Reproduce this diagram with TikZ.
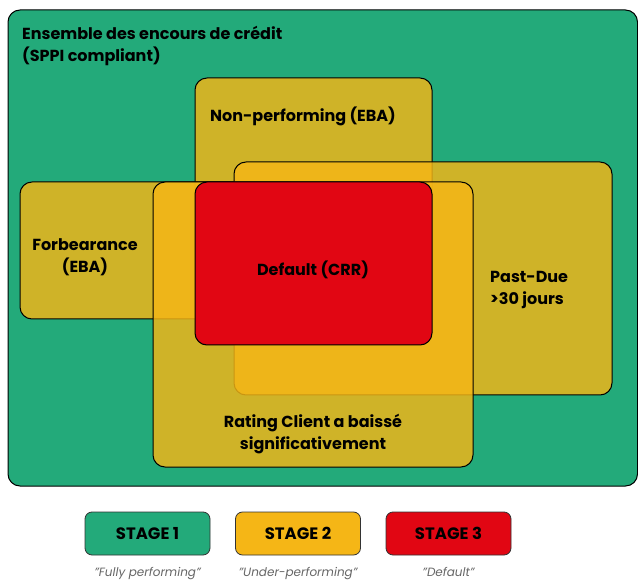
\documentclass[tikz,border=0pt]{standalone}
\usepackage{fontspec}
\setmainfont{Poppins}
\usetikzlibrary{positioning}

\definecolor{stagegreen}{RGB}{35,170,122}
\definecolor{stageyellow}{RGB}{245,182,22}
\definecolor{stagered}{RGB}{225,6,19}

\begin{document}
\begin{tikzpicture}[x=1pt,y=-1pt,
	zone/.style={draw=black,line width=1pt,rounded corners=12pt},
	overlap/.style={zone,fill=stageyellow,fill opacity=0.82},
	lbl/.style={font=\fontsize{16}{22}\selectfont\bfseries,align=center,text=black,inner sep=1pt},
	stagebox/.style={draw=black!80,line width=0.8pt,rounded corners=7pt,minimum width=125pt,minimum height=43pt,font=\fontsize{16.5}{18}\selectfont\bfseries},
	caption/.style={font=\fontsize{12}{14}\selectfont\itshape,text=black!60}]
	\useasboundingbox (0,0) rectangle (638,580);
	\fill[white] (0,0) rectangle (638,580);
	
	% ensemble
	\draw[zone,fill=stagegreen] (8,10) rectangle (637.5,486);
	\node[lbl,align=left,anchor=north west] (ensemble) at (21,25) {Ensemble des encours de crédit\\(SPPI compliant)};
	
	% sous-ensembles
	\draw[overlap] (195,78) rectangle (432,345);
	\draw[overlap] (20,182) rectangle (300,319);
	\draw[overlap] (234,162) rectangle (612,395);
	\draw[overlap] (153,182) rectangle (473,467);
	\draw[zone,fill=stagered] (195,182) rectangle (432,345);
	
	\node[lbl] (nonperf) at (303,116) {Non-performing (EBA)};
	\node[lbl] (forb) at (85,257) {Forbearance\\(EBA)};
	\node[lbl] (default) at (313,270) {Default (CRR)};
	\node[lbl,align=left,anchor=west] (pastdue) at (489,290) {Past-Due\\>30 jours};
	\node[lbl] (rating) at (313,434) {Rating Client a baissé\\significativement};
	
	% legende
	\node[stagebox,fill=stagegreen] (stage1) at (147.5,533.5) {STAGE 1};
	\node[stagebox,fill=stageyellow] (stage2) at (298,533.5) {STAGE 2};
	\node[stagebox,fill=stagered] (stage3) at (448.5,533.5) {STAGE 3};
	\node[caption,below=8pt of stage1] (cap1) {"Fully performing"};
	\node[caption,below=8pt of stage2] (cap2) {"Under-performing"};
	\node[caption,below=8pt of stage3] (cap3) {"Default"};
\end{tikzpicture}
\end{document}
